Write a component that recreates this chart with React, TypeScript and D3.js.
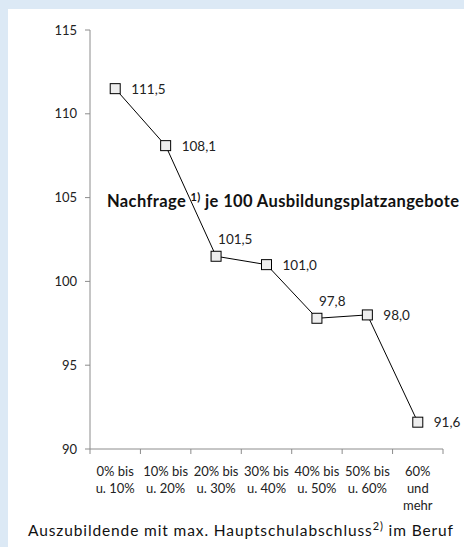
import React from "react";
import * as d3 from "d3";

// categories (share of trainees with max. Hauptschulabschluss in the occupation)
const categories = [
  ["0% bis", "u. 10%"],
  ["10% bis", "u. 20%"],
  ["20% bis", "u. 30%"],
  ["30% bis", "u. 40%"],
  ["40% bis", "u. 50%"],
  ["50% bis", "u. 60%"],
  ["60%", "und", "mehr"],
];
const values = [111.5, 108.1, 101.5, 101.0, 97.8, 98.0, 91.6];
// where the data label sits relative to the marker
const labelPos = ["right", "right", "above", "right", "above", "right", "right"];
const yTicks = [90, 95, 100, 105, 110, 115];

const W = 464;
const H = 547;
const font = "Lato, 'Open Sans', sans-serif";

export default function App() {
  const x = d3
    .scaleBand<number>()
    .domain(d3.range(categories.length))
    .range([90, 443]);
  const y = d3.scaleLinear().domain([90, 115]).range([449, 30]);

  const line = d3
    .line<number>()
    .x((d, i) => x(i)! + x.bandwidth() / 2)
    .y((d) => y(d));

  const fmt = (v: number) => v.toFixed(1).replace(".", ",");
  const axisColor = "#8c8c8c";

  return (
    <div style={{ position: "absolute", left: 0, top: 0 }}>
      <svg width={W} height={H} style={{ display: "block" }} fontFamily={font}>
        <rect x={0} y={0} width={W} height={H} fill="#dce9f5" />
        <rect x={8} y={9} width={W - 8} height={H - 9} fill="#ffffff" />

        {/* y axis */}
        <line x1={90} x2={90} y1={y(115)} y2={y(90)} stroke={axisColor} />
        {yTicks.map((t) => (
          <g key={t}>
            <line x1={85} x2={90} y1={y(t)} y2={y(t)} stroke={axisColor} />
            <text x={77} y={y(t) + 4.5} textAnchor="end" fontSize={13} fill="#222">
              {t}
            </text>
          </g>
        ))}

        {/* x axis */}
        <line x1={90} x2={443} y1={y(90)} y2={y(90)} stroke={axisColor} />
        {d3.range(categories.length + 1).map((i) => {
          const xx = i < categories.length ? x(i)! : x.range()[1];
          return (
            <line key={i} x1={xx} x2={xx} y1={y(90)} y2={y(90) + 5} stroke={axisColor} />
          );
        })}
        {categories.map((lines, i) => (
          <text
            key={i}
            x={x(i)! + x.bandwidth() / 2}
            y={476}
            textAnchor="middle"
            fontSize={13}
            fill="#222"
          >
            {lines.map((l, j) => (
              <tspan key={j} x={x(i)! + x.bandwidth() / 2} dy={j === 0 ? 0 : 17}>
                {l}
              </tspan>
            ))}
          </text>
        ))}

        {/* series */}
        <path d={line(values)!} fill="none" stroke="#000" strokeWidth={1} />
        {values.map((v, i) => {
          const cx = x(i)! + x.bandwidth() / 2;
          const cy = y(v);
          const above = labelPos[i] === "above";
          return (
            <g key={i}>
              <rect
                x={cx - 5}
                y={cy - 5}
                width={10}
                height={10}
                fill="#eeeeee"
                stroke="#000"
                strokeWidth={1}
              />
              <text
                x={above ? cx + 2 : cx + 16}
                y={above ? cy - 12 : cy + 5}
                fontSize={13.5}
                fill="#222"
              >
                {fmt(v)}
              </text>
            </g>
          );
        })}

        {/* chart title */}
        <text
          x={107}
          y={207}
          fontSize={16.5}
          fontWeight="bold"
          fill="#111"
          textLength={352}
          lengthAdjust="spacing"
        >
          Nachfrage{" "}
          <tspan fontSize={11} dy={-6}>
            1)
          </tspan>
          <tspan dy={6}> je 100 Ausbildungsplatzangebote</tspan>
        </text>

        {/* x axis title */}
        <text
          x={28}
          y={536}
          fontSize={15.5}
          fill="#111"
          textLength={425}
          lengthAdjust="spacing"
        >
          Auszubildende mit max. Hauptschulabschluss
          <tspan fontSize={11} dy={-6}>
            2)
          </tspan>
          <tspan dy={6}> im Beruf</tspan>
        </text>
      </svg>
    </div>
  );
}
